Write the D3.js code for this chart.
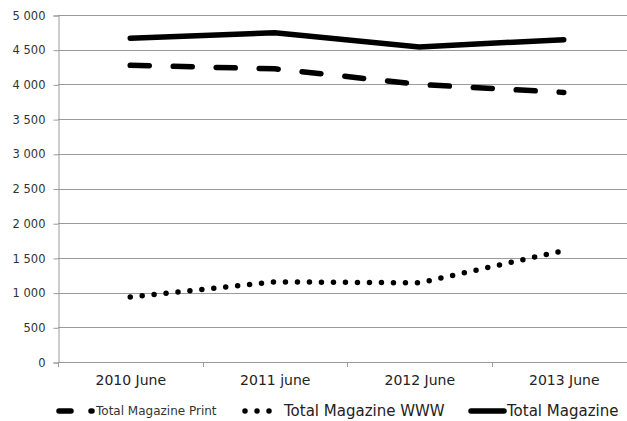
<!DOCTYPE html>
<html><head><meta charset="utf-8">
<script src="https://cdn.jsdelivr.net/npm/d3@7"></script>
<style>body{margin:0;background:#fff}svg{display:block}</style>
</head><body><svg id="c" width="627" height="421"></svg>
<script>
const categories = ["2010 June", "2011 june", "2012 June", "2013 June"];
const printValues = [4275, 4225, 4000, 3885];
const wwwValues = [935, 1155, 1140, 1605];
const totalValues = [4665, 4745, 4540, 4645];
const yTicks = [0, 500, 1000, 1500, 2000, 2500, 3000, 3500, 4000, 4500, 5000];

const svg = d3.select("#c");
const L = 58, R = 636, T = 15, B = 362;
const x = d3.scaleBand().domain(categories).range([L, R]);
const y = d3.scaleLinear().domain([0, 5000]).range([B, T]);
const font = "DejaVu Sans, Verdana, sans-serif";
const fmt = v => d3.format(",")(v).replace(/,/g, " ");

// gridlines
svg.append("g").selectAll("line").data(yTicks.filter(d => d > 0)).join("line")
  .attr("x1", L).attr("x2", 627).attr("y1", d => Math.round(y(d)) + 0.5).attr("y2", d => Math.round(y(d)) + 0.5)
  .attr("stroke", "#9a9a9a").attr("stroke-width", 1);

// y axis
const yAxis = svg.append("g").attr("transform", `translate(${L + 0.5},0.5)`)
  .call(d3.axisLeft(y).tickValues(yTicks).tickFormat(fmt).tickSize(5).tickPadding(8));
yAxis.select(".domain").attr("stroke", "#9a9a9a");
yAxis.selectAll(".tick line").attr("stroke", "#9a9a9a");
yAxis.selectAll(".tick text").attr("font-family", font).attr("font-size", 11.5).attr("fill", "#333");

// x axis
const xAxis = svg.append("g").attr("transform", `translate(0.5,${B + 0.5})`)
  .call(d3.axisBottom(x).tickSize(0).tickPadding(13));
xAxis.select(".domain").attr("stroke", "#9a9a9a").attr("d", `M${L},0H627`);
xAxis.selectAll(".tick text").attr("font-family", font).attr("font-size", 14).attr("fill", "#222");
svg.append("g").selectAll("line").data(categories).join("line")
  .attr("x1", d => Math.round(x(d)) + 0.5).attr("x2", d => Math.round(x(d)) + 0.5)
  .attr("y1", B).attr("y2", B + 5).attr("stroke", "#9a9a9a");

const line = d3.line().x((d, i) => x(categories[i]) + x.bandwidth() / 2).y(d => y(d));

svg.append("path").attr("d", line(printValues)).attr("fill", "none").attr("stroke", "#000")
  .attr("stroke-width", 5.5).attr("stroke-dasharray", "19 24").attr("stroke-linecap", "round");
svg.append("path").attr("d", line(wwwValues)).attr("fill", "none").attr("stroke", "#000")
  .attr("stroke-width", 5.5).attr("stroke-dasharray", "0 12").attr("stroke-linecap", "round");
svg.append("path").attr("d", line(totalValues)).attr("fill", "none").attr("stroke", "#000")
  .attr("stroke-width", 5.5).attr("stroke-linecap", "round");

// legend
const ly = 411;
svg.append("path").attr("d", `M59,${ly}H71M91,${ly}H92`).attr("stroke", "#000").attr("stroke-width", 5.5).attr("stroke-linecap", "round");
svg.append("text").attr("x", 96).attr("y", ly + 4).attr("font-family", font).attr("font-size", 12).attr("fill", "#333").text("Total Magazine Print");
svg.append("path").attr("d", `M245,${ly}H281`).attr("stroke", "#000").attr("stroke-width", 5.5).attr("stroke-dasharray", "0 12").attr("stroke-linecap", "round");
svg.append("text").attr("x", 284).attr("y", ly + 5).attr("font-family", font).attr("font-size", 15).attr("fill", "#222").text("Total Magazine WWW");
svg.append("path").attr("d", `M471,${ly}H504`).attr("stroke", "#000").attr("stroke-width", 5.5).attr("stroke-linecap", "round");
svg.append("text").attr("x", 507).attr("y", ly + 5).attr("font-family", font).attr("font-size", 15).attr("fill", "#222").text("Total Magazine");
</script></body></html>
